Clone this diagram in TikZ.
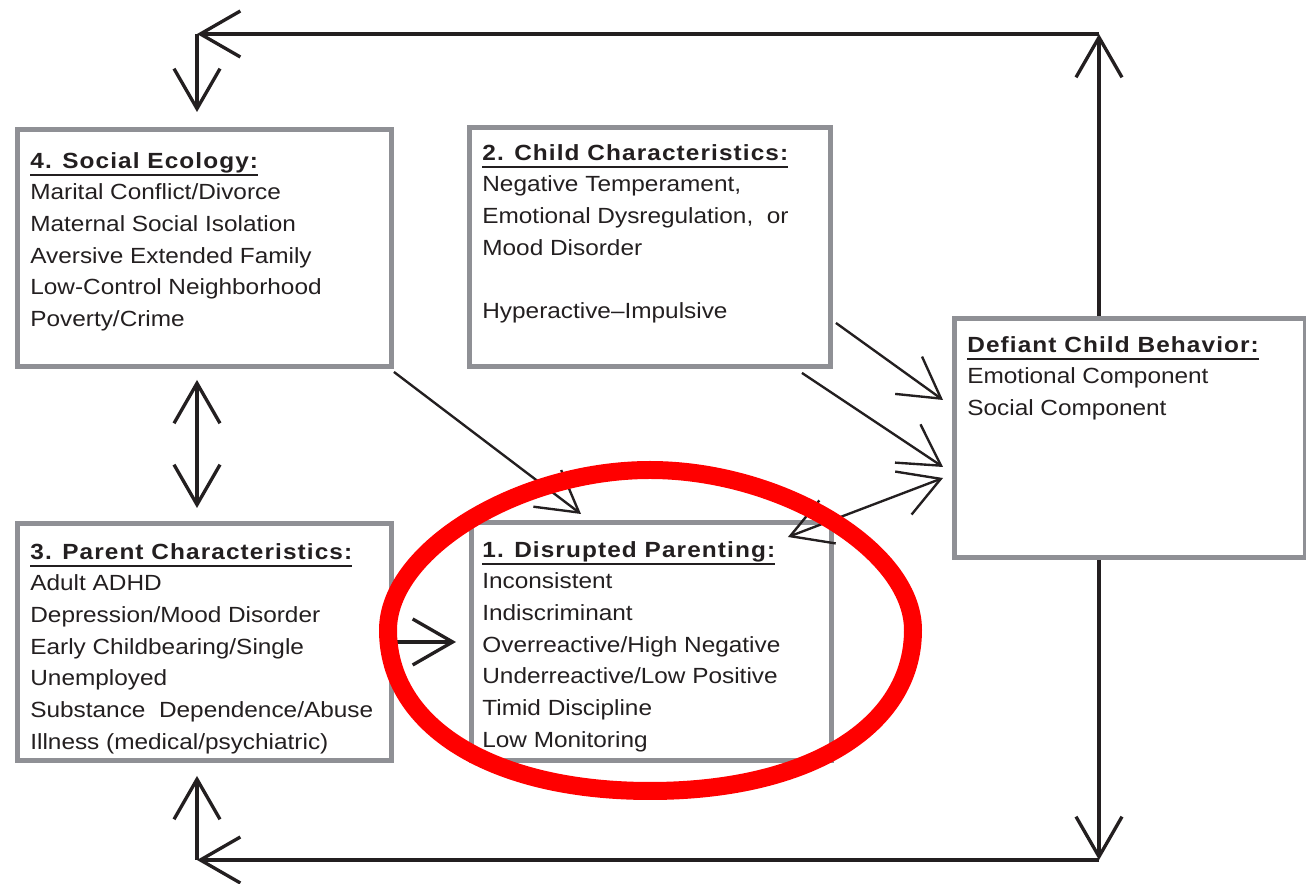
\documentclass[tikz,border=0pt]{standalone}
\usepackage{fontspec}
\setmainfont[FakeStretch=1.11,BoldFeatures={LetterSpace=5}]{Liberation Sans}
\usetikzlibrary{arrows.meta,calc}
\definecolor{boxgray}{RGB}{143,144,149}
\definecolor{ink}{RGB}{35,31,32}
\newcommand{\boxtitle}[1]{\setbox0\hbox{\bfseries #1}\rlap{\usebox0}\rule[-4.4pt]{\wd0}{1.1pt}}
\tikzset{openv/.tip={Straight Barb[length=0.8cm,width=0.92cm]}}
\begin{document}
\begin{tikzpicture}[x=0.02cm,y=-0.02cm,
  box/.style={draw=boxgray,line width=0.1cm,anchor=north west,inner sep=0pt},
  txt/.style={anchor=north west,inner sep=0pt,align=left,text=ink,
    font=\fontsize{12.5}{18}\selectfont},
  link/.style={draw=ink,line width=1.9pt,-openv},
  both/.style={link,openv-openv},
  thin/.style={line width=1.35pt}]
\useasboundingbox (0,0) rectangle (1306,884);

% the five boxes
\node[box,minimum width=7.48cm,minimum height=4.74cm] (social) at (15,127) {};
\node[box,minimum width=7.22cm,minimum height=4.78cm] (child) at (467,125) {};
\node[box,minimum width=7.48cm,minimum height=4.74cm] (parent) at (15,521) {};
\node[box,minimum width=7.2cm,minimum height=4.76cm] (parenting) at (469,520) {};
\node[box,minimum width=7.02cm,minimum height=4.78cm] (defiant) at (952,316) {};

\node[txt] (social-txt) at ($(social.north west)+(15,25)$)
  {\boxtitle{4. Social Ecology:}\\ Marital Conflict/Divorce\\ Maternal Social Isolation\\
   Aversive Extended Family\\ Low-Control Neighborhood\\ Poverty/Crime};
\node[txt] (child-txt) at ($(child.north west)+(15,19)$)
  {\boxtitle{2. Child Characteristics:}\\ Negative Temperament,\\
   Emotional Dysregulation,\ \ or\\ Mood Disorder\\ \mbox{}\\ Hyperactive–Impulsive};
\node[txt] (parent-txt) at ($(parent.north west)+(15,22)$)
  {\boxtitle{3. Parent Characteristics:}\\ Adult ADHD\\ Depression/Mood Disorder\\
   Early Childbearing/Single\\ Unemployed\\ Substance\ \ Dependence/Abuse\\
   Illness (medical/psychiatric)};
\node[txt] (parenting-txt) at ($(parenting.north west)+(13,21)$)
  {\boxtitle{1. Disrupted Parenting:}\\ Inconsistent\\ Indiscriminant\\
   Overreactive/High Negative\\ Underreactive/Low Positive\\ Timid Discipline\\
   Low Monitoring};
\node[txt] (defiant-txt) at ($(defiant.north west)+(15,20)$)
  {\boxtitle{Defiant Child Behavior:}\\ Emotional Component\\ Social Component};

% outer loop
\coordinate (tl) at (197,34);
\coordinate (tr) at (1099,34);
\coordinate (bl) at (197,860);
\coordinate (br) at (1099,860);
\draw[link] (defiant.north -| tr) -- (tr);
\draw[link] (tr) -- (tl);
\draw[link] (tl) -- ($(social.north -| tl)+(0,-15)$);
\draw[link] (defiant.south -| br) -- (br);
\draw[link] (br) -- (bl);
\draw[link] (bl) -- ($(parent.south -| bl)+(0,13)$);

% inner arrows
\draw[both] ($(social.south -| tl)+(0,11)$) -- ($(parent.north -| tl)+(0,-13)$);
\draw[link] ($(parent.east)+(3,0)$) -- ($(parent.east -| parenting.west)+(-13,0)$);
\draw[link,thin] ($(social.south east)+(0,3)$) -- ($(parenting.north west)+(112,-6)$);
\draw[link,thin] ($(child.south east)+(3,-46)$) -- ($(defiant.north west)+(-9,84)$);
\draw[link,thin] ($(child.south east)+(-31,4)$) -- ($(defiant.north west)+(-9,151)$);
\draw[both,thin] ($(defiant.north west)+(-9,162)$) -- ($(parenting.north east)+(-46,17)$);

% red mark, a little wider at the bottom
\draw[red,line width=0.36cm,line join=round]
  (388,630) .. controls (388,727) and (493,791) .. (650,791)
  .. controls (808,791) and (913,727) .. (913,630)
  .. controls (913,550) and (781,470) .. (650,470)
  .. controls (519,470) and (388,550) .. cycle;
\end{tikzpicture}
\end{document}
